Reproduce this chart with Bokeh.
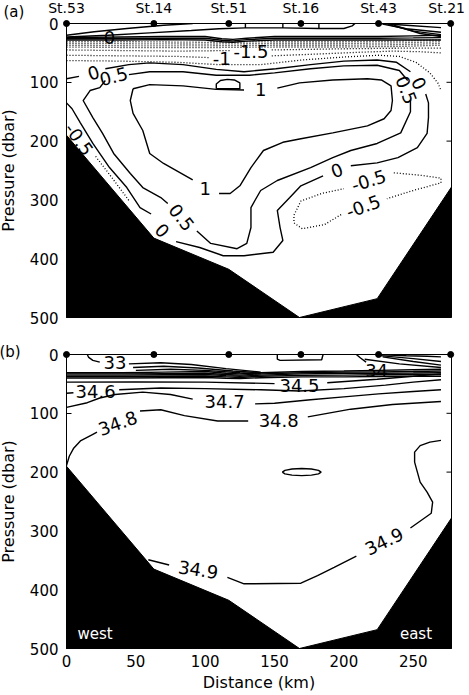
from bokeh.plotting import figure
from bokeh.models import Range1d, FixedTicker
from bokeh.layouts import column
from bokeh.core.properties import value
from bokeh.embed import file_html
from bokeh.resources import INLINE
import math

FONT = "DejaVu Sans"
X_END = 277.6
P_MAX = 500

STATION_NAMES = ["St.53", "St.14", "St.51", "St.16", "St.43", "St.21"]
STATION_KM = [0, 63, 117, 169, 225, 277]
BOTTOM_KM = [0, 63, 117, 168, 224, 277.6]
BOTTOM_DBAR = [190, 365, 418, 500, 468, 278]
Y_TICKS = [0, 100, 200, 300, 400, 500]
X_TICKS = [0, 50, 100, 150, 200, 250]

# ---------------- panel (a): temperature contours ----------------
A_S1_KM = [0, 20, 43.5, 70, 91]
A_S1_P = [20, 14, 8.5, 3, 0]
A_S2_KM = [0, 30, 60, 90, 110, 129, 156, 182, 200, 206, 208]
A_S2_P = [23, 20, 16, 12, 9, 7.5, 7.5, 8.5, 8.5, 4, 0]
A_V1_KM = [129, 129]
A_V1_P = [0, 7.5]
A_V2_KM = [156, 156]
A_V2_P = [0, 7.5]
A_V3_KM = [182, 182]
A_V3_P = [0, 8.5]
A_BAND_KM = [0, 40, 70, 100, 112, 120, 130, 150, 200, 225, 250, 270]
A_B1_P = [24, 23, 22, 22, 26, 27, 25, 22, 22, 22, 21, 20]
A_B2_P = [26, 25.5, 25, 25, 28.5, 29.5, 27.5, 25, 25, 25, 24.5, 24]
A_B3_P = [28, 28, 27.5, 28, 31, 32, 30, 28, 28, 28, 28, 28]
A_R1_KM = [226, 245, 270]
A_R1_P = [0, 3, 7]
A_R2_KM = [228, 245, 270]
A_R2_P = [1, 9, 15]
A_R3_KM = [232, 250, 270]
A_R3_P = [2, 13, 19]
A_R4_KM = [236, 255, 270]
A_R4_P = [3, 17, 22]

A_T0A_KM = [0, 9]
A_T0A_P = [94, 90]
A_T0B_KM = [28, 45, 60, 84, 108, 128, 151, 176, 200, 224, 238, 248]
A_T0B_P = [77, 70, 67, 70, 78, 82, 77, 70, 64, 62, 66, 82]
A_T0C_KM = [259, 261, 261, 260, 253, 239, 224, 205]
A_T0C_P = [120, 135, 160, 187, 211, 228, 237, 242]
A_T0D_KM = [185, 169, 161, 152, 154, 156, 149, 128, 113, 96, 79]
A_T0D_P = [259, 276, 296, 318, 347, 369, 389, 395, 395, 381, 371]
A_T0E_KM = [61, 53, 43.5, 31, 19, 10, 4, 0]
A_T0E_P = [324, 313, 279, 245, 204, 169, 145, 135]

A_T05A_KM = [28, 24, 17, 12, 19, 26, 34, 46, 55, 68, 73]
A_T05A_P = [97, 109, 114, 131, 160, 187, 221, 255, 279, 296, 306]
A_T05B_KM = [94, 104, 123, 130, 133, 133, 140, 152, 176, 192, 205, 224, 241, 248, 248]
A_T05B_P = [353, 374, 383, 374, 347, 313, 284, 267, 245, 228, 216, 204, 186, 150, 130]
A_T05C_KM = [246, 240, 224, 200, 176, 150, 132, 108, 84, 60, 45]
A_T05C_P = [97, 80, 71, 72, 77, 84, 88, 88, 82, 82, 87]

A_T1A_KM = [48, 60, 84, 108, 128]
A_T1A_P = [111, 104, 106, 112, 113]
A_T1B_KM = [152, 168, 192, 217, 227, 234, 235, 234, 229, 217, 192, 169, 156, 142, 133, 125, 118, 110]
A_T1B_P = [110, 101, 96, 94, 96, 106, 131, 148, 162, 174, 186, 196, 202, 216, 245, 276, 289, 289]
A_T1C_KM = [91, 70, 60, 55, 48, 46, 48]
A_T1C_P = [266, 238, 221, 182, 153, 131, 111]
A_OVAL_KM = [108, 108, 111, 116, 121, 125, 125, 108]
A_OVAL_P = [111, 103, 97, 95, 96, 101, 111, 111]

A_D_KM = [0, 50, 100, 150, 200, 240, 270]
A_D1_P = [31, 31, 32, 31, 31, 30, 28]
A_D2_P = [34, 34.5, 35, 34, 34, 33, 31]
A_D3_P = [37, 38, 38, 37, 37, 36, 34]
A_D4_P = [40, 41, 41, 40, 40, 39, 37]
A_M15A_KM = [0, 40, 80, 118]
A_M15A_P = [45, 46, 47, 46]
A_M15B_KM = [148, 200, 240, 270]
A_M15B_P = [45, 43, 42, 42]
A_M10A_KM = [0, 40, 80, 103]
A_M10A_P = [54, 55, 56, 58]
A_M10B_KM = [148, 180, 210, 235, 255, 270]
A_M10B_P = [55, 52, 49, 47, 48, 50]
A_M05_KM = [0, 40, 80, 110, 140, 170, 200, 225, 240, 252, 262, 268, 270]
A_M05_P = [63, 64, 66, 70, 70, 62, 57, 54, 56, 66, 84, 102, 114]
A_N05A_KM = [236, 255, 270, 270, 250, 231]
A_N05A_P = [254, 258, 263, 271, 284, 298]
A_N05B_KM = [198, 186, 170, 164, 164, 169, 184, 200]
A_N05B_P = [325, 342, 349, 339, 326, 302, 289, 281]
A_N05W_KM = [21, 33, 45]
A_N05W_P = [226, 263, 301]

A_LAB_TEXT = ["0", "-1.5", "-1", "0", "0.5", "1", "0.5", "0", "1", "0.5", "0", "0", "-0.5", "-0.5", "-0.5"]
A_LAB_KM = [31, 133, 112, 19.5, 34, 140, 245, 254, 100, 83, 69, 195, 218, 214, 9]
A_LAB_P = [24, 47, 60, 84, 90, 113, 113, 102, 280, 330, 352, 250, 267, 311, 197]
A_LAB_ANG = [0, 0, 0, 0.3, 0.25, 0, -1.2, -1.1, 0, -0.9, -0.8, 0.35, 0.3, 0.35, -0.95]

# ---------------- panel (b): salinity contours ----------------
B_33A_KM = [15, 16, 19, 24]
B_33A_P = [0, 5, 10, 13]
B_F1_KM = [45, 68, 90, 115, 140]
B_F1_P = [16, 14, 17, 24, 30]
B_F2_KM = [48, 70, 95, 120, 140]
B_F2_P = [22, 20, 23, 28, 31]
B_F3_KM = [50, 75, 100, 125, 140]
B_F3_P = [27, 25, 27, 31, 33]
B_BAND_KM = [0, 40, 70, 100, 115, 125, 140, 170, 200, 225, 250, 270]
B_B1_P = [31, 31, 30, 29, 32, 33, 31, 29, 28, 27, 26, 25]
B_B2_P = [33, 33, 32.5, 32, 34, 35, 33, 31, 30, 29.5, 29, 28]
B_B3_P = [35, 35, 34.5, 34, 36, 37, 35, 33, 32, 32, 31.5, 31]
B_B4_P = [37.5, 37.5, 37, 36.5, 38, 39, 37, 35.5, 35, 34.5, 34, 34]
B_B5_P = [40, 40, 39.5, 39, 40.5, 41, 39.5, 38, 38, 37.5, 37, 37]
B_R1_KM = [224, 245, 260, 270]
B_R1_P = [0, 2, 3, 4]
B_R2_KM = [226, 250, 270]
B_R2_P = [2, 7, 12]
B_R3_KM = [228, 250, 270]
B_R3_P = [4, 12, 18]
B_R4_KM = [215, 240, 270]
B_R4_P = [8, 16, 22]
B_BOX_KM = [152, 152, 154, 184, 185]
B_BOX_P = [0, 8, 10, 9, 0]
B_34_KM = [209, 212, 216]
B_34_P = [0, 6, 13]
B_345A_KM = [0, 50, 100, 150]
B_345A_P = [47, 46.5, 47, 49.5]
B_345B_KM = [188, 224, 250, 270]
B_345B_P = [48, 42, 37, 33]
B_346A_KM = [0, 5]
B_346A_P = [66, 65]
B_346B_KM = [38, 68, 100, 140, 168, 200, 230, 250, 270]
B_346B_P = [60, 57, 58, 60, 62, 58, 52, 47, 43]
B_347A_KM = [0, 15, 24, 35, 55, 75, 91]
B_347A_P = [90, 82, 74, 68, 64, 68, 76]
B_347B_KM = [136, 150, 176, 200, 225, 250, 270]
B_347B_P = [84, 83, 77, 72, 67, 63, 60]
B_348A_KM = [0, 2, 5, 10, 18, 22]
B_348A_P = [189, 173, 160, 147, 137, 132]
B_348B_KM = [53, 68, 85, 109, 131]
B_348B_P = [96, 94, 104, 113, 113]
B_348C_KM = [174, 205, 235, 270]
B_348C_P = [106, 93, 85, 80]
B_349A_KM = [59, 74]
B_349A_P = [349, 358]
B_349B_KM = [116, 128, 169, 181, 193, 209]
B_349B_P = [379, 390, 389, 376, 362, 343]
B_349C_KM = [248, 263, 264, 260, 255, 253, 251, 251, 255, 262, 270]
B_349C_P = [295, 270, 251, 234, 217, 200, 183, 166, 155, 149, 146]
B_ELL_KM = [155.6, 157.5, 162.6, 169.6, 176.6, 181.7, 183.6, 181.7, 176.6, 169.6, 162.6, 157.5, 155.6]
B_ELL_P = [200, 203, 205.2, 206, 205.2, 203, 200, 197, 194.8, 194, 194.8, 197, 200]

B_LAB_TEXT = ["33", "34", "34.5", "34.6", "34.7", "34.8", "34.8", "34.9", "34.9"]
B_LAB_KM = [35, 223.6, 168, 21, 114, 37, 153, 95, 229]
B_LAB_P = [14, 27, 52, 63, 80, 117, 113, 366, 318]
B_LAB_ANG = [0, 0, 0, 0, 0, 0.35, 0, -0.15, 0.45]

SIDE_TEXT = ["west", "east"]
SIDE_KM = [20.6, 252]
SIDE_P = [476, 476]

Y_TITLE = "Pressure (dbar)"
X_TITLE = "Distance (km)"


def overlay_text(p, x, y, text, size, angle=0.0, align="center", baseline="middle",
                 color="black", x_off=0, y_off=0):
    r = p.text(x=x, y=y, text=text, angle=angle, x_offset=x_off, y_offset=y_off,
               text_font=value(FONT), text_font_size=size, text_align=align,
               text_baseline=baseline, text_color=color)
    r.level = "overlay"
    return r


def base_fig(top, bottom, show_x):
    p = figure(frame_width=385, frame_height=294, x_range=Range1d(0, X_END),
               y_range=Range1d(P_MAX, 0), output_backend="svg", toolbar_location=None,
               min_border_left=66, min_border_right=18, min_border_top=top,
               min_border_bottom=bottom, background_fill_color="white",
               border_fill_color="white")
    p.xgrid.visible = False
    p.ygrid.visible = False
    p.outline_line_color = "black"
    p.outline_line_width = 1
    ax = p.yaxis[0]
    ax.ticker = FixedTicker(ticks=Y_TICKS)
    ax.major_tick_in = 5
    ax.major_tick_out = 0
    ax.minor_tick_in = 0
    ax.minor_tick_out = 0
    ax.axis_line_color = "black"
    ax.major_label_standoff = 8
    ax.major_label_text_font = FONT
    ax.major_label_text_font_size = "15px"
    ax.major_label_text_color = "black"
    xa = p.xaxis[0]
    if show_x:
        xa.ticker = FixedTicker(ticks=X_TICKS)
        xa.major_tick_in = 5
        xa.major_tick_out = 0
        xa.minor_tick_in = 0
        xa.minor_tick_out = 0
        xa.major_label_standoff = 6
        xa.major_label_text_font = FONT
        xa.major_label_text_font_size = "15px"
        xa.major_label_text_color = "black"
        xa.axis_label = X_TITLE
        xa.axis_label_text_font = FONT
        xa.axis_label_text_font_size = "16px"
        xa.axis_label_text_font_style = "normal"
        xa.axis_label_text_color = "black"
        xa.axis_label_standoff = 3
    else:
        xa.visible = False
    overlay_text(p, [-41.5], [P_MAX / 2], [Y_TITLE], "16px", angle=math.pi / 2)
    p.scatter([X_END] * len(Y_TICKS), Y_TICKS, marker="dash", size=10,
              line_color="black", line_width=1)
    return p


def add_lines(p, segs, dash=None, width=1.4):
    kw = dict(line_color="black", line_width=width)
    if dash:
        kw["line_dash"] = dash
    p.multi_line([s[0] for s in segs], [s[1] for s in segs], **kw)


def add_labels(p, xs, ys, texts, angles):
    p.text(x=xs, y=ys, text=texts, angle=angles, text_font=value(FONT),
           text_font_size="18px", text_align="center", text_baseline="middle",
           text_color="black")


def add_common(p, with_names):
    p.patch(BOTTOM_KM + [X_END, 0], BOTTOM_DBAR + [P_MAX, P_MAX],
            fill_color="black", line_color="black")
    r = p.scatter(STATION_KM, [0] * len(STATION_KM), size=6, color="black")
    r.level = "overlay"
    if with_names:
        overlay_text(p, STATION_KM, [0] * len(STATION_KM), STATION_NAMES, "14px",
                     baseline="bottom", x_off=[0, 0, 0, 0, 0, -4], y_off=-8)


# ---- panel (a)
pa = base_fig(23, 23, False)
add_lines(pa, [(A_S1_KM, A_S1_P), (A_S2_KM, A_S2_P), (A_V1_KM, A_V1_P), (A_V2_KM, A_V2_P),
               (A_V3_KM, A_V3_P), (A_BAND_KM, A_B1_P), (A_BAND_KM, A_B2_P), (A_BAND_KM, A_B3_P),
               (A_R1_KM, A_R1_P), (A_R2_KM, A_R2_P), (A_R3_KM, A_R3_P), (A_R4_KM, A_R4_P),
               (A_T0A_KM, A_T0A_P), (A_T0B_KM, A_T0B_P), (A_T0C_KM, A_T0C_P),
               (A_T0D_KM, A_T0D_P), (A_T0E_KM, A_T0E_P),
               (A_T05A_KM, A_T05A_P), (A_T05B_KM, A_T05B_P), (A_T05C_KM, A_T05C_P),
               (A_T1A_KM, A_T1A_P), (A_T1B_KM, A_T1B_P), (A_T1C_KM, A_T1C_P),
               (A_OVAL_KM, A_OVAL_P)])
add_lines(pa, [(A_D_KM, A_D1_P), (A_D_KM, A_D2_P), (A_D_KM, A_D3_P), (A_D_KM, A_D4_P),
               (A_M15A_KM, A_M15A_P), (A_M15B_KM, A_M15B_P), (A_M10A_KM, A_M10A_P),
               (A_M10B_KM, A_M10B_P), (A_M05_KM, A_M05_P), (A_N05A_KM, A_N05A_P),
               (A_N05B_KM, A_N05B_P), (A_N05W_KM, A_N05W_P)], dash="1 2", width=1.3)
add_labels(pa, A_LAB_KM, A_LAB_P, A_LAB_TEXT, A_LAB_ANG)
add_common(pa, True)
overlay_text(pa, [-37.9], [-19.7], ["(a)"], "15px")

# ---- panel (b)
pb = base_fig(14, 46, True)
add_lines(pb, [(B_33A_KM, B_33A_P), (B_F1_KM, B_F1_P), (B_F2_KM, B_F2_P), (B_F3_KM, B_F3_P),
               (B_BAND_KM, B_B1_P), (B_BAND_KM, B_B2_P), (B_BAND_KM, B_B3_P),
               (B_BAND_KM, B_B4_P), (B_BAND_KM, B_B5_P),
               (B_R1_KM, B_R1_P), (B_R2_KM, B_R2_P), (B_R3_KM, B_R3_P), (B_R4_KM, B_R4_P),
               (B_BOX_KM, B_BOX_P), (B_34_KM, B_34_P),
               (B_345A_KM, B_345A_P), (B_345B_KM, B_345B_P), (B_346A_KM, B_346A_P),
               (B_346B_KM, B_346B_P), (B_347A_KM, B_347A_P), (B_347B_KM, B_347B_P),
               (B_348A_KM, B_348A_P), (B_348B_KM, B_348B_P), (B_348C_KM, B_348C_P),
               (B_349A_KM, B_349A_P), (B_349B_KM, B_349B_P), (B_349C_KM, B_349C_P),
               (B_ELL_KM, B_ELL_P)])
add_labels(pb, B_LAB_KM, B_LAB_P, B_LAB_TEXT, B_LAB_ANG)
add_common(pb, False)
pb.text(x=SIDE_KM, y=SIDE_P, text=SIDE_TEXT, text_font=value(FONT), text_font_size="15px",
        text_align="center", text_baseline="middle", text_color="white")
overlay_text(pb, [-40.7], [-3.7], ["(b)"], "15px")

layout = column(pa, pb)
open("out.html", "w").write(file_html(layout, INLINE))
